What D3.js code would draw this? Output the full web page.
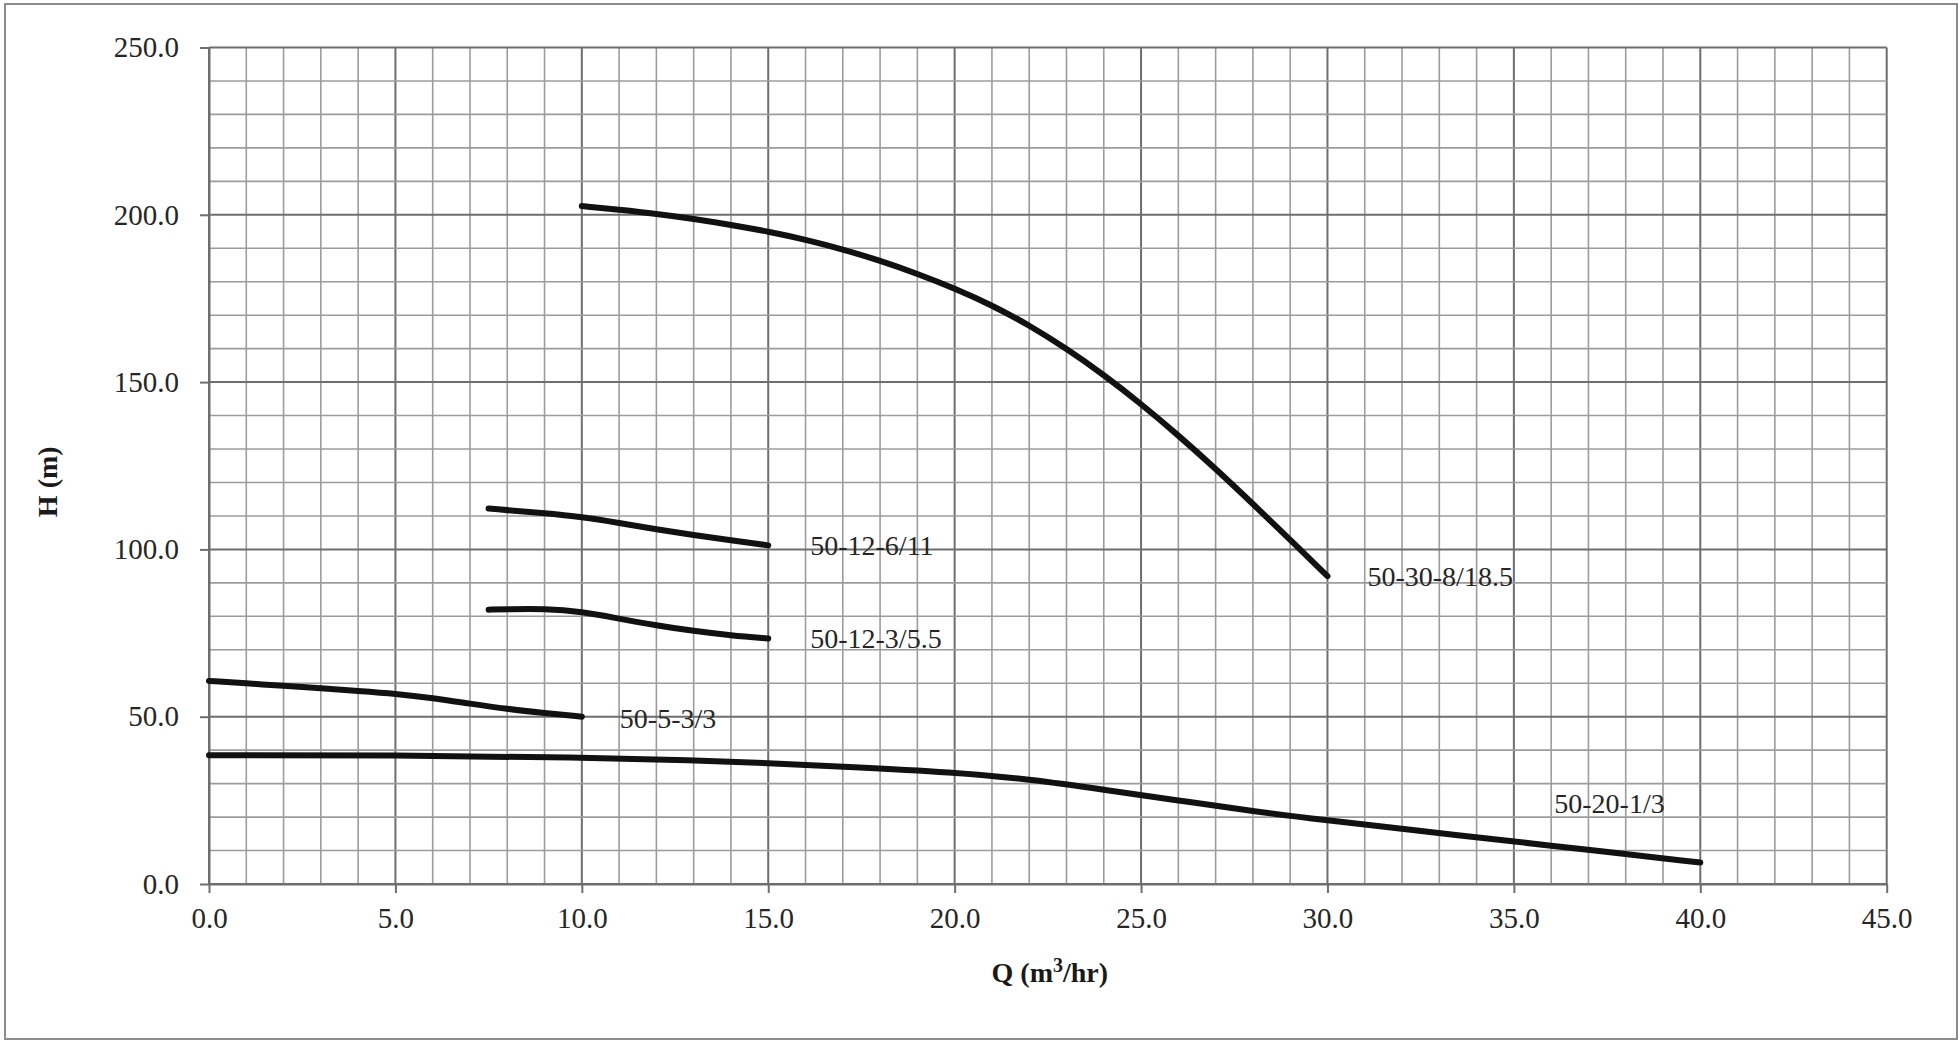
<!DOCTYPE html>
<html>
<head>
<meta charset="utf-8">
<script src="https://cdn.jsdelivr.net/npm/d3@7"></script>
<style>
  html, body { margin: 0; padding: 0; background: #fff; }
  svg { display: block; }
  text { font-family: "Liberation Serif", "Times New Roman", serif; }
</style>
</head>
<body>
<svg id="chart" width="1959" height="1042"></svg>
<script>
// ---- data ----
const xTicks = [0, 5, 10, 15, 20, 25, 30, 35, 40, 45];
const yTicks = [0, 50, 100, 150, 200, 250];

const s50_30_8_Q = [10, 11, 12, 13, 14, 15, 16, 17, 18, 19, 20, 21, 22, 23, 24, 25, 26, 27, 28, 29, 30];
const s50_30_8_H = [202.6, 201.5, 200.3, 198.8, 197.0, 195.0, 192.6, 189.7, 186.3, 182.4, 178.0, 173.0, 167.0, 160.0, 152.2, 143.5, 134.1, 124.1, 113.6, 102.9, 92.0];

const s50_12_6_Q = [7.5, 9, 10, 11, 12, 13, 14, 15];
const s50_12_6_H = [112.2, 110.8, 109.7, 107.9, 106.0, 104.3, 102.7, 101.2];

const s50_12_3_Q = [7.5, 8, 9, 10, 11, 12, 13, 14, 15];
const s50_12_3_H = [82.0, 82.1, 82.3, 81.4, 79.3, 77.3, 75.6, 74.3, 73.4];

const s50_5_3_Q = [0, 1, 2, 3, 4, 5, 6, 7, 8, 9, 10];
const s50_5_3_H = [60.7, 60.0, 59.2, 58.5, 57.7, 56.9, 55.6, 53.9, 52.3, 51.1, 50.0];

const s50_20_1_Q = [0, 5, 10, 13, 15, 17, 20, 22, 24, 26, 28, 30, 32, 35, 37, 40];
const s50_20_1_H = [38.5, 38.5, 37.8, 37.0, 36.1, 35.1, 33.4, 31.3, 28.2, 25.0, 21.7, 19.0, 16.5, 12.7, 10.2, 6.4];

const seriesNames = ["50-30-8/18.5", "50-12-6/11", "50-12-3/5.5", "50-5-3/3", "50-20-1/3"];
const seriesQ = [s50_30_8_Q, s50_12_6_Q, s50_12_3_Q, s50_5_3_Q, s50_20_1_Q];
const seriesH = [s50_30_8_H, s50_12_6_H, s50_12_3_H, s50_5_3_H, s50_20_1_H];

// ---- layout ----
const W = 1959, H = 1042;
const margin = { left: 209, top: 47.5, right: W - 1886.7, bottom: H - 884 };
const svg = d3.select("#chart");

// outer frame
svg.append("rect")
  .attr("x", 5).attr("y", 4).attr("width", 1952).attr("height", 1035)
  .attr("fill", "#fff").attr("stroke", "#8c8c8c").attr("stroke-width", 2);

const x = d3.scaleLinear().domain([0, 45]).range([margin.left, W - margin.right]);
const y = d3.scaleLinear().domain([0, 250]).range([H - margin.bottom, margin.top]);

// grid
const g = svg.append("g");
g.selectAll("line.v").data(d3.range(0, 46, 1)).enter().append("line")
  .attr("x1", d => x(d)).attr("x2", d => x(d))
  .attr("y1", y(0)).attr("y2", y(250))
  .attr("stroke", d => d % 5 === 0 ? "#6e6e6e" : "#9c9c9c")
  .attr("stroke-width", d => d % 5 === 0 ? 2 : 1.6);
g.selectAll("line.h").data(d3.range(0, 251, 10)).enter().append("line")
  .attr("y1", d => y(d)).attr("y2", d => y(d))
  .attr("x1", x(0)).attr("x2", x(45))
  .attr("stroke", d => d % 50 === 0 ? "#6e6e6e" : "#9c9c9c")
  .attr("stroke-width", d => d % 50 === 0 ? 2 : 1.6);

// axes (ticks + labels)
const fmt = d3.format(".1f");
const xAxis = svg.append("g")
  .attr("transform", `translate(0,${y(0)})`)
  .call(d3.axisBottom(x).tickValues(xTicks).tickFormat(fmt).tickSizeOuter(0).tickSizeInner(9).tickPadding(14));
const yAxis = svg.append("g")
  .attr("transform", `translate(${x(0)},0)`)
  .call(d3.axisLeft(y).tickValues(yTicks).tickFormat(fmt).tickSizeOuter(0).tickSizeInner(9).tickPadding(21));
[xAxis, yAxis].forEach(a => {
  a.select(".domain").attr("stroke", "#6e6e6e").attr("stroke-width", 2);
  a.selectAll(".tick line").attr("stroke", "#6e6e6e").attr("stroke-width", 2);
  a.selectAll(".tick text")
    .attr("font-family", "Liberation Serif, Times New Roman, serif")
    .attr("font-size", 29).attr("fill", "#262626");
});

// curves
const line = d3.line().x(d => x(d[0])).y(d => y(d[1])).curve(d3.curveBasis);
seriesNames.forEach((name, i) => {
  const pts = seriesQ[i].map((q, j) => [q, seriesH[i][j]]);
  svg.append("path").datum(pts)
    .attr("d", line)
    .attr("fill", "none").attr("stroke", "#111")
    .attr("stroke-width", 6).attr("stroke-linecap", "round").attr("stroke-linejoin", "round");
});

// curve labels, placed relative to each curve's end point
const labelOffsets = [[40, 10], [42, 10], [42, 10], [38, 11], [-146, -50]];
seriesNames.forEach((name, i) => {
  const q = seriesQ[i][seriesQ[i].length - 1];
  const h = seriesH[i][seriesH[i].length - 1];
  svg.append("text")
    .attr("x", x(q) + labelOffsets[i][0])
    .attr("y", y(h) + labelOffsets[i][1])
    .attr("font-size", 28).attr("fill", "#262626")
    .text(name);
});

// axis titles
svg.append("text")
  .attr("transform", `translate(57,${(y(0) + y(250)) / 2 + 16}) rotate(-90)`)
  .attr("text-anchor", "middle")
  .attr("font-size", 28).attr("font-weight", "bold").attr("fill", "#1a1a1a")
  .text("H (m)");

const xt = svg.append("text")
  .attr("x", (x(0) + x(45)) / 2 + 2).attr("y", 982)
  .attr("text-anchor", "middle")
  .attr("font-size", 28).attr("font-weight", "bold").attr("fill", "#1a1a1a");
xt.append("tspan").text("Q (m");
xt.append("tspan").attr("dy", -10).attr("font-size", 20).text("3");
xt.append("tspan").attr("dy", 10).text("/hr)");
</script>
</body>
</html>
